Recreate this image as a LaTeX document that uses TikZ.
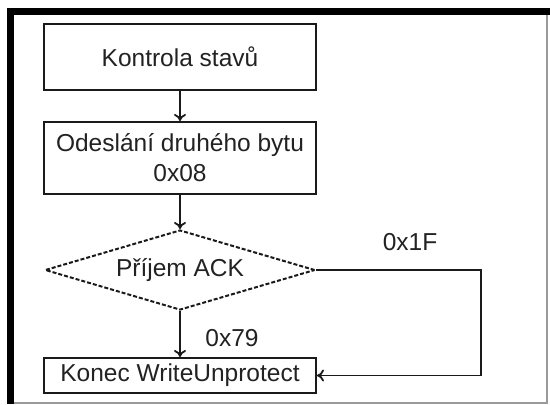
\documentclass[tikz,border=0pt]{standalone}
\usepackage{fontspec}
\setmainfont{Liberation Sans}
\usepackage{xcolor}
\usetikzlibrary{arrows.meta,calc,shapes.geometric,positioning}
\definecolor{cLine}{HTML}{1A1A1A}
\definecolor{cText}{HTML}{222222}
\definecolor{cFrame}{HTML}{9A9A9A}
\tikzset{
  >={To[length=3.5pt,width=6pt]},
  krok/.style   ={draw=cLine,line width=1pt,text=cText,minimum width=136pt,inner sep=1pt,align=center,
                  font=\fontsize{12.25}{15}\selectfont},
  rozhod/.style ={diamond,draw=cLine,line width=1pt,dash pattern=on 2pt off 1pt,aspect=3.375,inner sep=0pt,
                  minimum width=135pt,minimum height=40pt,text=cText,font=\fontsize{12.25}{15}\selectfont},
  tok/.style    ={->,line width=0.9pt,cLine},
  popis/.style  ={text=cText,font=\fontsize{12.25}{15}\selectfont},
}
\begin{document}
\begin{tikzpicture}[x=0.5pt,y=-0.5pt]
  \useasboundingbox (0,0) rectangle (550,404);
  % ramecek
  \draw[cFrame,line width=1pt] (547,11) -- (547,403) -- (10,403);
  \draw[black,line width=3.5pt] (10.5,404) -- (10.5,11) -- (550,11);
  % kroky
  \node[krok,minimum height=33pt] (kontrola) at (180,57) {Kontrola stavů};
  \node[krok,minimum height=36pt] (odeslani) at (180,158) {Odeslání druhého bytu\\0x08};
  \node[rozhod] (prijem) at (180,270) {Příjem ACK};
  \node[krok,minimum height=17.5pt] (konec) at (180,375.5) {Konec WriteUnprotect};
  \coordinate (ohyb) at (481,375.5);
  % spoje
  \draw[tok] (kontrola) -- (odeslani);
  \draw[tok] (odeslani) -- (prijem);
  \draw[tok] (prijem) -- (konec);
  \draw[tok] (prijem.east) -- (prijem.east -| ohyb) -- (ohyb) -- (konec.east);
  \node[popis] (l1F) at (410,242) {0x1F};
  \node[popis] (l79) at (232,338) {0x79};
\end{tikzpicture}
\end{document}
